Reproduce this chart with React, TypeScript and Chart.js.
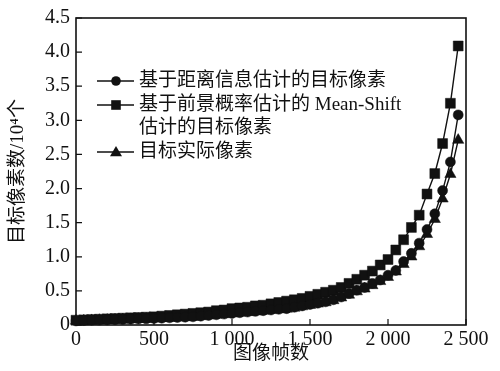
import React, { useEffect, useRef } from 'react';
import { Chart, registerables } from 'chart.js';

Chart.register(...registerables);

// ---- data ----
const frames = [
  0, 50, 100, 150, 200, 250, 300, 350, 400, 450,
  500, 550, 600, 650, 700, 750, 800, 850, 900, 950,
  1000, 1050, 1100, 1150, 1200, 1250, 1300, 1350, 1400, 1450,
  1500, 1550, 1600, 1650, 1700, 1750, 1800, 1850, 1900, 1950,
  2000, 2050, 2100, 2150, 2200, 2250, 2300, 2350, 2400, 2450,
];

const distanceEstimate = [
  0.06, 0.065, 0.07, 0.072, 0.075, 0.078, 0.08, 0.083, 0.087, 0.09,
  0.095, 0.10, 0.105, 0.11, 0.115, 0.12, 0.13, 0.14, 0.15, 0.16,
  0.17, 0.18, 0.19, 0.20, 0.21, 0.22, 0.23, 0.24, 0.26, 0.28,
  0.30, 0.32, 0.34, 0.37, 0.41, 0.46, 0.51, 0.55, 0.61, 0.66,
  0.73, 0.80, 0.93, 1.05, 1.20, 1.40, 1.63, 1.97, 2.39, 3.08,
];

const meanShiftEstimate = [
  0.07, 0.075, 0.08, 0.085, 0.09, 0.095, 0.10, 0.105, 0.11, 0.115,
  0.12, 0.13, 0.14, 0.15, 0.16, 0.17, 0.18, 0.19, 0.21, 0.22,
  0.24, 0.25, 0.26, 0.28, 0.29, 0.31, 0.33, 0.35, 0.37, 0.39,
  0.42, 0.45, 0.48, 0.51, 0.55, 0.61, 0.67, 0.73, 0.79, 0.88,
  0.96, 1.10, 1.25, 1.43, 1.61, 1.92, 2.22, 2.66, 3.25, 4.09,
];

const actualPixels = [
  0.06, 0.063, 0.067, 0.07, 0.073, 0.076, 0.08, 0.082, 0.085, 0.088,
  0.092, 0.097, 0.10, 0.105, 0.11, 0.115, 0.125, 0.135, 0.145, 0.155,
  0.165, 0.175, 0.185, 0.195, 0.205, 0.215, 0.225, 0.235, 0.25, 0.27,
  0.29, 0.31, 0.33, 0.36, 0.40, 0.44, 0.49, 0.53, 0.58, 0.64,
  0.70, 0.78, 0.89, 1.00, 1.15, 1.33, 1.55, 1.85, 2.21, 2.71,
];

const seriesLabels = [
  '基于距离信息估计的目标像素',
  '基于前景概率估计的 Mean-Shift\n估计的目标像素',
  '目标实际像素',
];
const seriesMarkers = ['circle', 'rect', 'triangle'];

const xTickLabels = ['0', '500', '1 000', '1 500', '2 000', '2 500'];
const yTickLabels = ['0', '0.5', '1.0', '1.5', '2.0', '2.5', '3.0', '3.5', '4.0', '4.5'];

const xTitle = '图像帧数';
const yTitle = '目标像素数/10⁴个';

// ---- styling ----
const FONT = "'Liberation Serif', 'Noto Sans CJK SC', serif";
const INK = '#111111';

const framePlugin = {
  id: 'frameAndInwardTicks',
  beforeDatasetsDraw(chart: any) {
    const { ctx, chartArea } = chart;
    const { left, right, top, bottom } = chartArea;
    ctx.save();
    ctx.strokeStyle = INK;
    ctx.lineWidth = 1.6;
    ctx.strokeRect(left, top, right - left, bottom - top);
    ctx.lineWidth = 1.2;
    ctx.beginPath();
    const xs = chart.scales.x;
    xs.ticks.forEach((t: any) => {
      const px = xs.getPixelForValue(t.value);
      ctx.moveTo(px, bottom);
      ctx.lineTo(px, bottom - 6);
    });
    const ys = chart.scales.y;
    ys.ticks.forEach((t: any) => {
      const py = ys.getPixelForValue(t.value);
      ctx.moveTo(left, py);
      ctx.lineTo(left + 6, py);
    });
    ctx.stroke();
    ctx.restore();
  },
};

function drawMarker(ctx: CanvasRenderingContext2D, kind: string, x: number, y: number) {
  ctx.beginPath();
  if (kind === 'circle') {
    ctx.arc(x, y, 4.8, 0, Math.PI * 2);
  } else if (kind === 'rect') {
    ctx.rect(x - 4.8, y - 4.8, 9.6, 9.6);
  } else {
    ctx.moveTo(x, y - 6);
    ctx.lineTo(x + 6, y + 4.2);
    ctx.lineTo(x - 6, y + 4.2);
    ctx.closePath();
  }
  ctx.fill();
}

const legendPlugin = {
  id: 'insideLegend',
  afterDraw(chart: any) {
    const { ctx } = chart;
    const rowsY = [81, 105, 152];
    const lineGap = 23;
    ctx.save();
    ctx.fillStyle = INK;
    ctx.strokeStyle = INK;
    ctx.font = `19px ${FONT}`;
    ctx.textBaseline = 'middle';
    ctx.textAlign = 'left';
    chart.data.datasets.forEach((ds: any, i: number) => {
      const y = rowsY[i];
      ctx.lineWidth = 1.6;
      ctx.beginPath();
      ctx.moveTo(97, y);
      ctx.lineTo(134, y);
      ctx.stroke();
      drawMarker(ctx, seriesMarkers[i], 116, y);
      String(ds.label).split('\n').forEach((line: string, k: number) => {
        ctx.fillText(line, 139, y + k * lineGap);
      });
    });
    ctx.restore();
  },
};

export default function App() {
  const canvasRef = useRef<HTMLCanvasElement | null>(null);

  useEffect(() => {
    if (!canvasRef.current) return;
    const seriesValues = [distanceEstimate, meanShiftEstimate, actualPixels];
    const radii = [5, 7, 6.5];
    const chart = new Chart(canvasRef.current, {
      type: 'line',
      data: {
        datasets: seriesValues.map((vals, i) => ({
          label: seriesLabels[i],
          data: frames.map((f, k) => ({ x: f, y: vals[k] })),
          borderColor: INK,
          backgroundColor: INK,
          borderWidth: 1.4,
          pointStyle: seriesMarkers[i] as any,
          pointRadius: radii[i],
          pointBorderWidth: 0.5,
          pointBackgroundColor: INK,
          pointBorderColor: INK,
          tension: 0,
          clip: false as any,
        })),
      },
      options: {
        animation: false,
        responsive: false,
        devicePixelRatio: 1,
        layout: { padding: { left: 0, top: 16, right: 34, bottom: 0 } },
        plugins: {
          legend: { display: false },
          tooltip: { enabled: false },
        },
        scales: {
          x: {
            type: 'linear',
            min: 0,
            max: 2500,
            grid: { display: false, drawTicks: false, tickLength: 0 },
            border: { display: false },
            ticks: {
              stepSize: 500,
              padding: 3,
              color: INK,
              font: { family: FONT, size: 20 },
              maxRotation: 0,
              callback: (_v: any, i: number) => xTickLabels[i],
            },
            title: {
              display: true,
              text: xTitle,
              color: INK,
              font: { family: FONT, size: 19 },
              padding: { top: 0, bottom: 6 },
            },
            afterFit: (s: any) => { s.height = 46; },
          },
          y: {
            type: 'linear',
            min: 0,
            max: 4.5,
            grid: { display: false, drawTicks: false, tickLength: 0 },
            border: { display: false },
            ticks: {
              stepSize: 0.5,
              padding: 6,
              color: INK,
              font: { family: FONT, size: 20 },
              callback: (_v: any, i: number) => yTickLabels[i],
            },
            title: {
              display: true,
              text: yTitle,
              color: INK,
              font: { family: FONT, size: 19 },
              padding: { top: 7, bottom: 0 },
            },
            afterFit: (s: any) => { s.width = 76; },
          },
        },
      },
      plugins: [framePlugin, legendPlugin],
    });
    return () => chart.destroy();
  }, []);

  return (
    <div style={{ position: 'absolute', left: 0, top: 0, width: 500, height: 371, background: '#fff' }}>
      <canvas ref={canvasRef} width={500} height={371} />
    </div>
  );
}
